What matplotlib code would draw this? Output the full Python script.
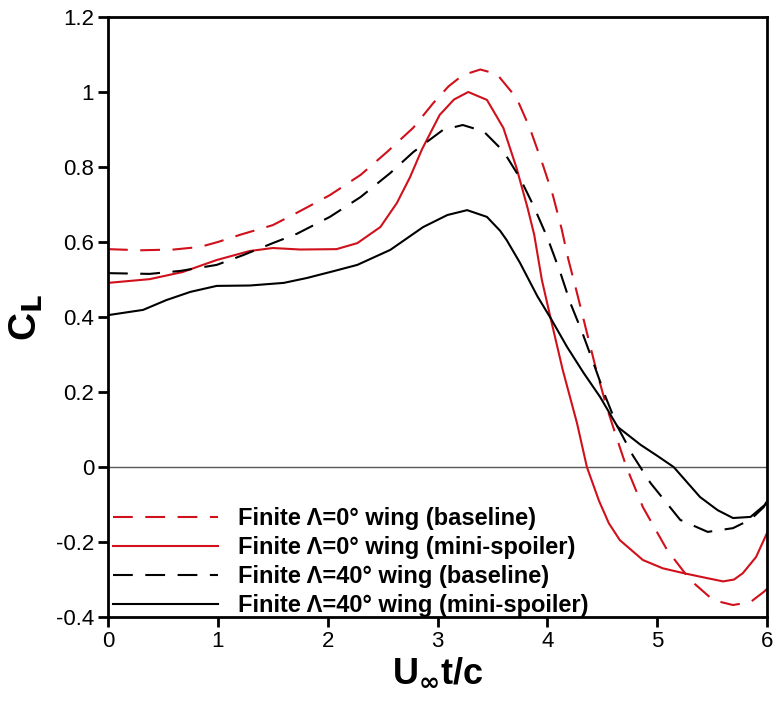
import matplotlib
matplotlib.use('Agg')
import matplotlib.pyplot as plt

plt.rcParams['font.family'] = ['Liberation Sans', 'DejaVu Sans']

# finite wing, sweep 0 deg, baseline
x_a0_base = [0, 0.3, 0.6, 0.84, 1.0, 1.2, 1.5, 1.72, 2.02, 2.3, 2.54, 2.78, 2.96, 3.1, 3.23, 3.39,
             3.54, 3.72, 3.84, 3.96, 4.05, 4.13, 4.19, 4.27, 4.35, 4.44, 4.54, 4.64, 4.72, 4.87,
             5.09, 5.3, 5.51, 5.69, 5.85, 5.97, 6.0]
cl_a0_base = [0.581, 0.578, 0.58, 0.587, 0.60, 0.619, 0.645, 0.678, 0.725, 0.779, 0.84, 0.905, 0.97, 1.015, 1.045, 1.06,
              1.048, 0.984, 0.904, 0.805, 0.725, 0.635, 0.555, 0.464, 0.37, 0.265, 0.16, 0.07, 0.0, -0.107,
              -0.221, -0.301, -0.355, -0.368, -0.36, -0.333, -0.325]

# finite wing, sweep 0 deg, mini-spoiler
x_a0_ms = [0, 0.38, 0.68, 0.99, 1.29, 1.5, 1.75, 2.08, 2.27, 2.48, 2.63, 2.75, 2.86, 3.02, 3.15, 3.28,
           3.45, 3.6, 3.72, 3.82, 3.88, 3.95, 4.04, 4.14, 4.27, 4.36, 4.47, 4.56, 4.66, 4.87, 5.05,
           5.24, 5.45, 5.6, 5.7, 5.78, 5.9, 6.0]
cl_a0_ms = [0.491, 0.501, 0.52, 0.552, 0.576, 0.584, 0.58, 0.581, 0.597, 0.64, 0.704, 0.773, 0.848, 0.939, 0.98, 1.0,
            0.979, 0.904, 0.797, 0.691, 0.62, 0.499, 0.384, 0.259, 0.117, 0.0, -0.09, -0.15, -0.195, -0.248, -0.27,
            -0.283, -0.296, -0.305, -0.30, -0.283, -0.24, -0.176]

# finite wing, sweep 40 deg, baseline
x_a40_base = [0, 0.38, 0.66, 0.99, 1.23, 1.5, 1.72, 2.02, 2.3, 2.57, 2.78, 3.05, 3.23, 3.42, 3.6,
              3.75, 3.87, 4.0, 4.12, 4.21, 4.32, 4.42, 4.53, 4.64, 4.78, 4.94, 5.21, 5.46, 5.69,
              5.85, 5.97, 6.0]
cl_a40_base = [0.517, 0.515, 0.523, 0.539, 0.565, 0.597, 0.622, 0.667, 0.72, 0.784, 0.84, 0.899, 0.912, 0.895, 0.842,
               0.771, 0.699, 0.612, 0.517, 0.437, 0.357, 0.277, 0.187, 0.107, 0.03, -0.043, -0.141, -0.173, -0.163,
               -0.14, -0.107, -0.09]

# finite wing, sweep 40 deg, mini-spoiler
x_a40_ms = [0, 0.32, 0.53, 0.75, 0.99, 1.29, 1.6, 1.81, 2.05, 2.27, 2.57, 2.87, 3.09, 3.27, 3.45,
            3.57, 3.63, 3.75, 3.91, 4.03, 4.18, 4.33, 4.48, 4.64, 4.85, 5.0, 5.15, 5.39, 5.55,
            5.69, 5.85, 6.0]
cl_a40_ms = [0.405, 0.419, 0.445, 0.467, 0.483, 0.484, 0.491, 0.504, 0.522, 0.539, 0.579, 0.64, 0.672, 0.685, 0.667,
             0.63, 0.605, 0.545, 0.455, 0.397, 0.32, 0.251, 0.187, 0.107, 0.059, 0.03, 0.0, -0.08, -0.115,
             -0.136, -0.133, -0.096]

labels = ['Finite \u039b=0\u00b0 wing (baseline)',
          'Finite \u039b=0\u00b0 wing (mini-spoiler)',
          'Finite \u039b=40\u00b0 wing (baseline)',
          'Finite \u039b=40\u00b0 wing (mini-spoiler)']

red = '#d0101a'
dash = (0, (9.5, 6))

fig = plt.figure(figsize=(7.74, 7.03), dpi=100)
ax = fig.add_axes([0.1395, 0.1223, 0.8515, 0.8535])

ax.axhline(0, color='0.35', lw=1.0)
ax.plot(x_a0_base, cl_a0_base, color=red, lw=1.5, ls=dash, label=labels[0])
ax.plot(x_a0_ms, cl_a0_ms, color=red, lw=1.5, label=labels[1])
ax.plot(x_a40_base, cl_a40_base, color='black', lw=1.5, ls=dash, label=labels[2])
ax.plot(x_a40_ms, cl_a40_ms, color='black', lw=1.5, label=labels[3])

ax.set_xlim(0, 6)
ax.set_ylim(-0.4, 1.2)
ax.set_xticks([0, 1, 2, 3, 4, 5, 6])
ax.set_yticks([-0.4, -0.2, 0, 0.2, 0.4, 0.6, 0.8, 1, 1.2])
ax.set_yticklabels(['-0.4', '-0.2', '0', '0.2', '0.4', '0.6', '0.8', '1', '1.2'])
ax.tick_params(direction='out', length=7, width=2, labelsize=16, pad=3)
for s in ax.spines.values():
    s.set_linewidth(2)

ax.set_xlabel('U$_\\mathbf{\\infty}$t/c', fontsize=26, fontweight='bold', labelpad=2)
ax.set_ylabel('C$_\\mathbf{L}$', fontsize=28, fontweight='bold', labelpad=8)

ax.legend(loc='lower left', bbox_to_anchor=(0.008, 0.0), frameon=False,
          handlelength=4.45, handletextpad=0.85, labelspacing=0.25,
          prop={'weight': 'bold', 'size': 17}, borderaxespad=0.0, borderpad=0.0)

fig.savefig('out.png', dpi=100)
